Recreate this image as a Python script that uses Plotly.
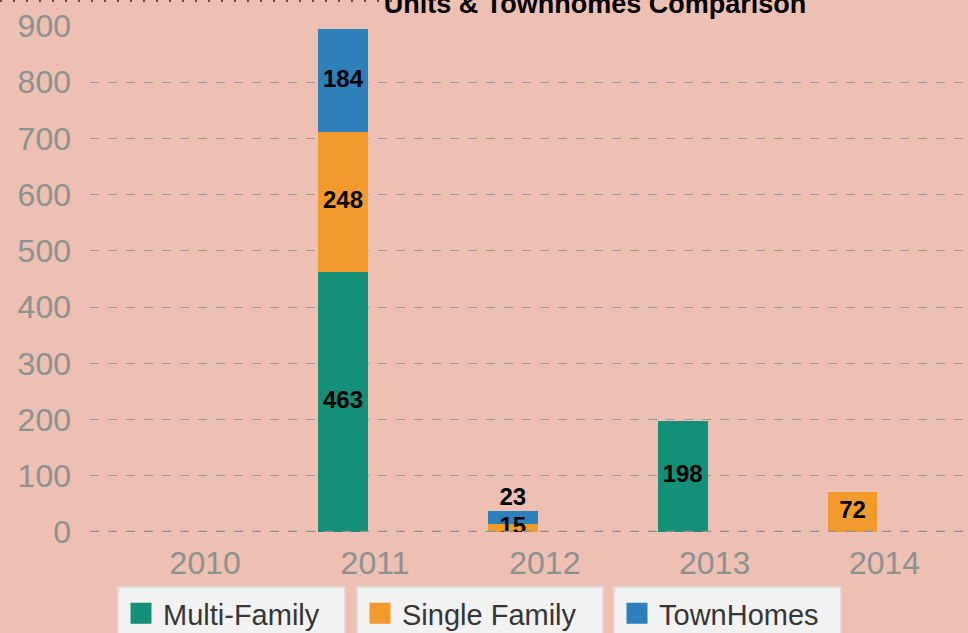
import plotly.graph_objects as go

years = ["2010", "2011", "2012", "2013", "2014"]
multi_family = [0, 463, 0, 198, 0]
single_family = [0, 248, 15, 0, 72]
townhomes = [0, 184, 23, 0, 0]

series_names = ["Multi-Family", "Single Family", "TownHomes"]
series_values = [multi_family, single_family, townhomes]
colors = ["#149078", "#F29B2C", "#2E80BA"]
legend_ids = ["legend", "legend2", "legend3"]

BG = "#EEBFB3"
FONT = "Liberation Sans, Arial, sans-serif"
TICK_GRAY = "#8C9191"

fig = go.Figure()

for name, vals, col in zip(series_names, series_values, colors):
    fig.add_trace(go.Bar(
        x=years, y=[v if v else None for v in vals], name=name,
        marker=dict(color=col, line=dict(width=0)),
        width=0.294, showlegend=False, hoverinfo="skip",
    ))

# legend entries (one legend box per series)
for name, col, lid in zip(series_names, colors, legend_ids):
    fig.add_trace(go.Scatter(
        x=[None], y=[None], mode="markers", name=name, legend=lid,
        marker=dict(symbol="square", size=16, color=col,
                    line=dict(color=col, width=5)),
        showlegend=True,
    ))

# value labels computed from the stacked data
lab_x, lab_y, lab_t, lab_pos = [], [], [], []
for i, yr in enumerate(years):
    base = 0
    top_total = sum(v[i] for v in series_values)
    for k, vals in enumerate(series_values):
        v = vals[i]
        if v:
            is_top = (base + v == top_total)
            if v < 30 and is_top and base > 0:
                lab_y.append(top_total)
                lab_pos.append("top center")
            else:
                lab_y.append(base + v / 2)
                lab_pos.append("middle center")
            lab_x.append(yr)
            lab_t.append(str(v))
        base += v

fig.add_trace(go.Scatter(
    x=lab_x, y=lab_y, text=lab_t, mode="text", textposition=lab_pos,
    textfont=dict(family=FONT, size=24, color="#000000", weight="bold"),
    showlegend=False, hoverinfo="skip",
))

# invisible trace carrying the (slightly offset) year tick labels
fig.add_trace(go.Scatter(
    x=years, y=[None] * len(years), xaxis="x2", mode="markers",
    showlegend=False, hoverinfo="skip",
))

legend_common = dict(
    orientation="h", bgcolor="#F2F2F2", bordercolor="#DEDADA", borderwidth=2,
    font=dict(family=FONT, size=29, color="#363636"),
    yanchor="top", y=(532 - 586) / 506, xanchor="left", itemwidth=34,
)

x_range = [-0.49, 4.68]
label_shift = 32 / 170

fig.update_layout(
    barmode="stack",
    width=968, height=633,
    paper_bgcolor=BG, plot_bgcolor=BG,
    margin=dict(l=90, r=0, t=26, b=101, autoexpand=False),
    title=dict(
        text="<b>Units & Townhomes Comparison</b>",
        x=595 / 968, xanchor="center", y=1 - 4 / 633, yanchor="middle",
        font=dict(family=FONT, size=27, color="#000000"),
    ),
    xaxis=dict(
        type="category", range=x_range,
        showgrid=False, zeroline=False, showline=False, ticks="",
        showticklabels=False,
    ),
    xaxis2=dict(
        type="category", overlaying="x", side="bottom", anchor="y",
        categoryorder="array", categoryarray=years,
        range=[x_range[0] - label_shift, x_range[1] - label_shift],
        showgrid=False, zeroline=False, showline=False, ticks="",
        tickfont=dict(family=FONT, size=32, color=TICK_GRAY),
        ticklabelstandoff=9,
    ),
    yaxis=dict(
        range=[0, 900], dtick=100, tick0=0,
        showgrid=True, gridcolor="#9A9898", griddash="dash", gridwidth=1,
        zeroline=False, showline=False, ticks="",
        tickfont=dict(family=FONT, size=32, color=TICK_GRAY),
        ticklabelstandoff=18,
    ),
    legend=dict(legend_common, x=(117 - 90) / 878, entrywidth=176),
    legend2=dict(legend_common, x=(356 - 90) / 878, entrywidth=195),
    legend3=dict(legend_common, x=(613 - 90) / 878, entrywidth=176),
    shapes=[
        dict(type="line", xref="paper", yref="y", x0=0, x1=1, y0=0, y1=0,
             line=dict(color="#8F9090", width=2.5, dash="dash"), layer="above"),
        dict(type="line", xref="paper", yref="paper",
             x0=-90 / 878, x1=(392 - 90) / 878,
             y0=1 + 25 / 506, y1=1 + 25 / 506,
             line=dict(color="#6A4A40", width=2, dash="2px,11px")),
    ],
)

fig.write_html("out.html", config={"displayModeBar": False},
               post_script="document.body.style.margin='0';")
